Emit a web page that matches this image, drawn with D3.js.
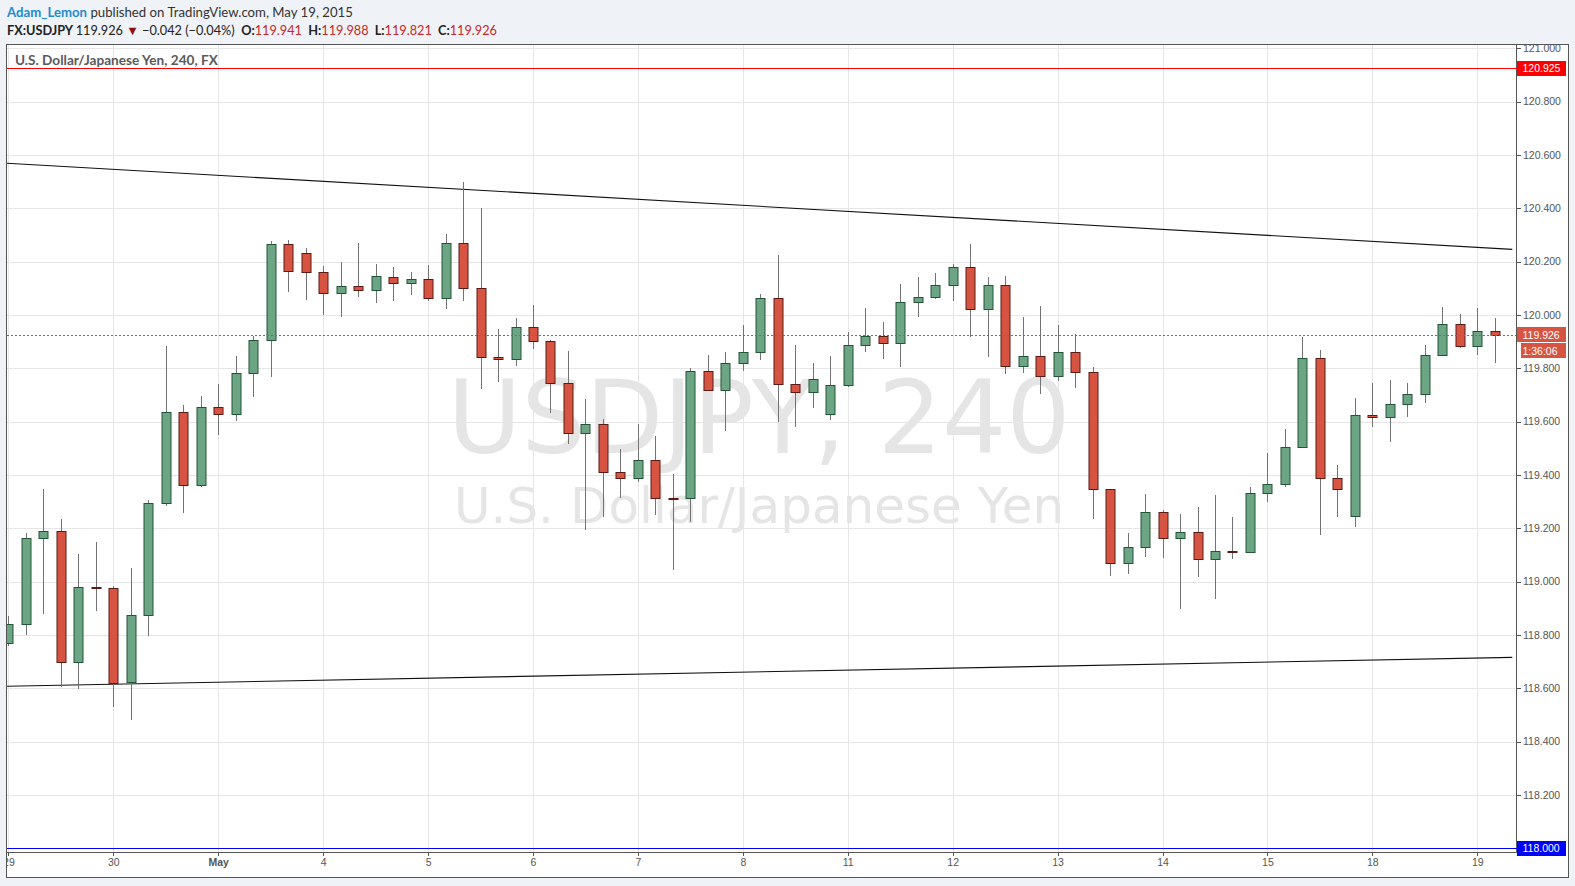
<!DOCTYPE html>
<html><head><meta charset="utf-8">
<script src="https://cdn.jsdelivr.net/npm/d3@7"></script>
<style>
html,body{margin:0;padding:0;background:#eff2f6;overflow:hidden;}
svg{display:block;}
</style></head><body>
<svg id="c" width="1575" height="886"></svg>
<script>
// ---------------- data ----------------
const dayLabels = ["29","30","May","4","5","6","7","8","11","12","13","14","15","18","19"];
const barsPerDay = 6;
const opens = [118.769,118.840,119.163,119.189,118.698,118.979,118.978,118.623,118.874,119.294,
  119.635,119.361,119.654,119.628,119.781,119.905,120.266,120.232,120.161,120.083,
  120.109,120.094,120.141,120.119,120.134,120.063,120.269,120.100,119.841,119.834,
  119.954,119.901,119.744,119.556,119.590,119.410,119.388,119.455,119.313,119.311,
  119.789,119.718,119.819,119.860,120.063,119.740,119.710,119.628,119.736,119.886,
  119.920,119.894,120.048,120.066,120.111,120.179,120.021,120.111,119.808,119.845,
  119.770,119.860,119.785,119.346,119.069,119.129,119.260,119.163,119.185,119.084,
  119.114,119.110,119.331,119.365,119.504,119.838,119.388,119.245,119.624,119.616,
  119.665,119.703,119.849,119.965,119.883,119.941];
const highs = [118.871,119.181,119.348,119.235,119.104,119.149,118.984,119.051,119.306,119.884,
  119.662,119.696,119.741,119.846,119.921,120.278,120.281,120.251,120.184,120.199,
  120.270,120.191,120.180,120.161,120.188,120.304,120.499,120.401,119.948,119.989,
  120.038,119.906,119.865,119.685,119.611,119.498,119.591,119.546,119.403,119.800,
  119.850,119.861,119.963,120.079,120.225,119.888,119.820,119.846,119.936,120.026,
  119.974,120.116,120.143,120.158,120.191,120.266,120.141,120.146,119.993,120.034,
  119.963,119.928,119.806,119.346,119.181,119.329,119.268,119.254,119.280,119.325,
  119.243,119.355,119.483,119.573,119.918,119.869,119.438,119.689,119.745,119.756,
  119.745,119.888,120.030,120.004,120.026,119.988];
const lows = [118.760,118.800,118.880,118.606,118.596,118.891,118.531,118.482,118.797,119.285,
  119.259,119.356,119.550,119.604,119.694,119.769,120.086,120.056,120.000,119.993,
  120.068,120.045,120.054,120.076,120.054,120.024,120.054,119.724,119.750,119.810,
  119.874,119.634,119.517,119.195,119.244,119.315,119.375,119.251,119.045,119.225,
  119.716,119.566,119.791,119.832,119.600,119.581,119.652,119.607,119.731,119.862,
  119.836,119.806,119.994,120.059,120.054,119.919,119.844,119.780,119.784,119.705,
  119.754,119.727,119.236,119.022,119.028,119.094,119.090,118.896,119.016,118.934,
  119.084,119.108,119.300,119.356,119.504,119.176,119.244,119.203,119.581,119.525,
  119.619,119.671,119.849,119.877,119.849,119.821];
const closes = [118.840,119.163,119.189,118.698,118.979,118.977,118.623,118.874,119.294,119.635,
  119.361,119.654,119.628,119.781,119.905,120.266,120.165,120.161,120.083,120.109,
  120.094,120.146,120.119,120.134,120.063,120.269,120.100,119.841,119.834,119.954,
  119.901,119.744,119.556,119.590,119.410,119.388,119.455,119.313,119.311,119.789,
  119.718,119.819,119.860,120.063,119.740,119.710,119.759,119.736,119.886,119.920,
  119.894,120.048,120.066,120.111,120.179,120.021,120.111,119.808,119.845,119.770,
  119.860,119.785,119.346,119.069,119.129,119.260,119.163,119.185,119.084,119.114,
  119.111,119.331,119.365,119.504,119.838,119.388,119.346,119.624,119.616,119.665,
  119.703,119.849,119.965,119.883,119.939,119.926];
const priceTicks = [118.2,118.4,118.6,118.8,119.0,119.2,119.4,119.6,119.8,120.0,120.2,120.4,120.6,120.8,121.0];
const upperTrend = [{i:-1, v:120.5725},{i:86, v:120.246}];
const lowerTrend = [{i:-1, v:118.6065},{i:86, v:118.716}];
const resistanceLevel = 120.925;
const supportLevel = 118.000;
const lastPrice = 119.926;
const countdown = "1:36:06";
const headerInfo = {author:"Adam_Lemon", pub:" published on TradingView.com, May 19, 2015"};
const quote = {sym:"FX:USDJPY", last:"119.926", chg:"\u22120.042 (\u22120.04%)", o:"119.941", h:"119.988", l:"119.821", c:"119.926"};
const legendText = "U.S. Dollar/Japanese Yen, 240, FX";
const watermark1 = "USDJPY, 240";
const watermark2 = "U.S. Dollar/Japanese Yen";

// ---------------- layout ----------------
const P = {l:7, r:1516, t:44, b:852};
const frame = {l:6.5, r:1568.5, t:44.5, b:877.5};
const svg = d3.select("#c");
const x = d3.scaleLinear().domain([0, 84]).range([8.4, 1477.3]);
const y = d3.scaleLinear().domain([118, 121]).range([848.3, 48.3]);
const px = v => Math.round(v) + 0.5;

const bars = opens.map((o,i)=>({i, o, h:highs[i], l:lows[i], c:closes[i]}));

// header
const h1 = svg.append("text").attr("x",7).attr("y",16.5)
  .style("font-family","Lato, 'Open Sans', sans-serif").style("font-size","13px");
h1.append("tspan").attr("fill","#1f8ad0").attr("font-weight","bold").text(headerInfo.author);
h1.append("tspan").attr("fill","#333").text(headerInfo.pub);

const h2 = svg.append("text").attr("x",7).attr("y",34.5).attr("xml:space","preserve")
  .style("font-family","Lato, 'Open Sans', sans-serif").style("font-size","13px").attr("fill","#222");
h2.append("tspan").attr("font-weight","bold").text(quote.sym + " ");
h2.append("tspan").text(quote.last + " ");
h2.append("tspan").attr("fill","#8b0f0f").text("\u25BC");
h2.append("tspan").text(" " + quote.chg + "  ");
[["O:",quote.o],["H:",quote.h],["L:",quote.l],["C:",quote.c]].forEach(([k,v],j)=>{
  h2.append("tspan").attr("font-weight","bold").text((j?"  ":"") + k);
  h2.append("tspan").attr("fill","#c62828").text(v);
});

function fit(sel, target){
  const n = sel.node(); const w = n.getComputedTextLength();
  const fs = parseFloat(sel.style("font-size"));
  sel.style("font-size", (fs*target/w).toFixed(2)+"px");
}
fit(h1, 346); fit(h2, 490);

// chart background and frame
svg.append("rect").attr("x",frame.l).attr("y",frame.t).attr("width",frame.r-frame.l).attr("height",frame.b-frame.t)
  .attr("fill","#fff");

const defs = svg.append("defs");
defs.append("clipPath").attr("id","plotClip").append("rect")
  .attr("x",P.l).attr("y",P.t).attr("width",P.r-P.l).attr("height",P.b-P.t);
defs.append("clipPath").attr("id","axisClip").append("rect")
  .attr("x",P.r).attr("y",P.t).attr("width",frame.r-P.r).attr("height",frame.b-P.t);
defs.append("clipPath").attr("id","timeClip").append("rect")
  .attr("x",P.l).attr("y",P.b).attr("width",P.r-P.l).attr("height",frame.b-P.b);

const plot = svg.append("g").attr("clip-path","url(#plotClip)");

// watermark
plot.append("text").attr("x",759).attr("y",453).attr("text-anchor","middle")
  .style("font-family","'DejaVu Sans', sans-serif").style("font-size","101px").attr("fill","#e5e5e5").text(watermark1);
plot.append("text").attr("x",759).attr("y",523).attr("text-anchor","middle")
  .style("font-family","'DejaVu Sans', sans-serif").style("font-size","50px").attr("fill","#e5e5e5").text(watermark2);

// grid
const dayIdx = dayLabels.map((d,k)=>k*barsPerDay);
plot.selectAll(".hg").data(priceTicks).join("line")
  .attr("x1",P.l).attr("x2",P.r).attr("y1",d=>px(y(d))).attr("y2",d=>px(y(d)))
  .attr("stroke","#e6e6e6").attr("stroke-width",1);
plot.selectAll(".vg").data(dayIdx).join("line")
  .attr("y1",P.t).attr("y2",P.b).attr("x1",d=>px(x(d))).attr("x2",d=>px(x(d)))
  .attr("stroke","#e6e6e6").attr("stroke-width",1);

// legend
const lg = svg.append("text").attr("x",15).attr("y",65)
  .style("font-family","Lato, 'Open Sans', sans-serif").style("font-size","12.5px").attr("font-weight","bold")
  .attr("fill","#5a5a5a").text(legendText);
fit(lg, 203);

// horizontal levels
plot.append("line").attr("x1",P.l).attr("x2",P.r).attr("y1",px(y(resistanceLevel))).attr("y2",px(y(resistanceLevel)))
  .attr("stroke","#ff0000").attr("stroke-width",1);
plot.append("line").attr("x1",P.l).attr("x2",P.r).attr("y1",px(y(supportLevel))).attr("y2",px(y(supportLevel)))
  .attr("stroke","#0000ff").attr("stroke-width",1.2);

// trend lines
const tl = d3.line().x(d=>x(d.i)).y(d=>y(d.v));
[upperTrend, lowerTrend].forEach(t=>{
  plot.append("path").attr("d", tl(t)).attr("fill","none").attr("stroke","#111").attr("stroke-width",1.1);
});

// candles
const cg = plot.append("g");
const cand = cg.selectAll("g").data(bars).join("g");
cand.append("line")
  .attr("x1",d=>px(x(d.i))).attr("x2",d=>px(x(d.i)))
  .attr("y1",d=>Math.round(y(d.h))).attr("y2",d=>Math.round(y(d.l)))
  .attr("stroke","#737375").attr("stroke-width",1);
cand.append("rect")
  .attr("x",d=>Math.round(x(d.i))-4)
  .attr("width",9)
  .attr("y",d=>Math.round(y(Math.max(d.o,d.c)))+0.5)
  .attr("height",d=>Math.max(1, Math.round(Math.abs(y(d.o)-y(d.c)))))
  .attr("fill",d=>d.c>=d.o ? "#6ba583" : "#d75442")
  .attr("stroke",d=>d.c>=d.o ? "#225437" : "#5b1a13")
  .attr("stroke-width",1);

// last price dotted line
plot.append("line").attr("x1",P.l).attr("x2",P.r).attr("y1",px(y(lastPrice))).attr("y2",px(y(lastPrice)))
  .attr("stroke","#e5412f").attr("stroke-width",1).attr("stroke-dasharray","2,2");

// frame lines
svg.append("rect").attr("x",frame.l).attr("y",frame.t).attr("width",frame.r-frame.l).attr("height",frame.b-frame.t)
  .attr("fill","none").attr("stroke","#555").attr("stroke-width",1);
svg.append("line").attr("x1",P.r+0.5).attr("x2",P.r+0.5).attr("y1",P.t).attr("y2",P.b+0.5).attr("stroke","#555");
svg.append("line").attr("x1",frame.l).attr("x2",P.r+0.5).attr("y1",P.b+0.5).attr("y2",P.b+0.5).attr("stroke","#555");

// price axis
const ax = svg.append("g").attr("clip-path","url(#axisClip)");
const fmt = d3.format(".3f");
ax.selectAll(".tk").data(priceTicks).join("line")
  .attr("x1",P.r).attr("x2",P.r+5).attr("y1",d=>px(y(d))).attr("y2",d=>px(y(d))).attr("stroke","#555");
ax.selectAll(".tl").data(priceTicks).join("text")
  .attr("x",1523).attr("y",d=>y(d)+3.8)
  .style("font-family","'Liberation Sans', Arial, sans-serif").style("font-size","10.5px").attr("fill","#555")
  .text(d=>fmt(d));

function priceLabel(v, bg, txt, x0, dy){
  const cy = y(v) + (dy||0);
  ax.append("rect").attr("x",x0).attr("y",Math.round(cy-7.5)).attr("width",1566-x0).attr("height",15).attr("fill",bg);
  ax.append("text").attr("x",1522.5).attr("y",cy+3.8)
    .style("font-family","'Liberation Sans', Arial, sans-serif").style("font-size","10.5px").attr("fill","#fff").text(txt);
}
priceLabel(resistanceLevel, "#ff0000", fmt(resistanceLevel), 1517);
priceLabel(lastPrice, "#d75442", fmt(lastPrice), 1517);
priceLabel(lastPrice, "#d75442", countdown, 1521, 16);
priceLabel(supportLevel, "#0000ff", fmt(supportLevel), 1517);
[resistanceLevel, supportLevel].forEach((v,j)=>{
  ax.append("line").attr("x1",P.r).attr("x2",1517).attr("y1",px(y(v))).attr("y2",px(y(v)))
    .attr("stroke", j? "#0000ff":"#ff0000");
});

// time axis
const tx = svg.append("g").attr("clip-path","url(#timeClip)");
tx.selectAll("line").data(dayIdx).join("line")
  .attr("x1",d=>px(x(d))).attr("x2",d=>px(x(d))).attr("y1",P.b).attr("y2",P.b+4).attr("stroke","#555");
tx.selectAll("text").data(dayLabels).join("text")
  .attr("x",(d,k)=>x(dayIdx[k])+0.5).attr("y",866)
  .attr("text-anchor","middle")
  .style("font-family","'Liberation Sans', Arial, sans-serif").style("font-size","10.5px")
  .attr("font-weight",d=>d==="May"?"bold":"normal")
  .attr("fill","#555").text(d=>d);
</script>
</body></html>
